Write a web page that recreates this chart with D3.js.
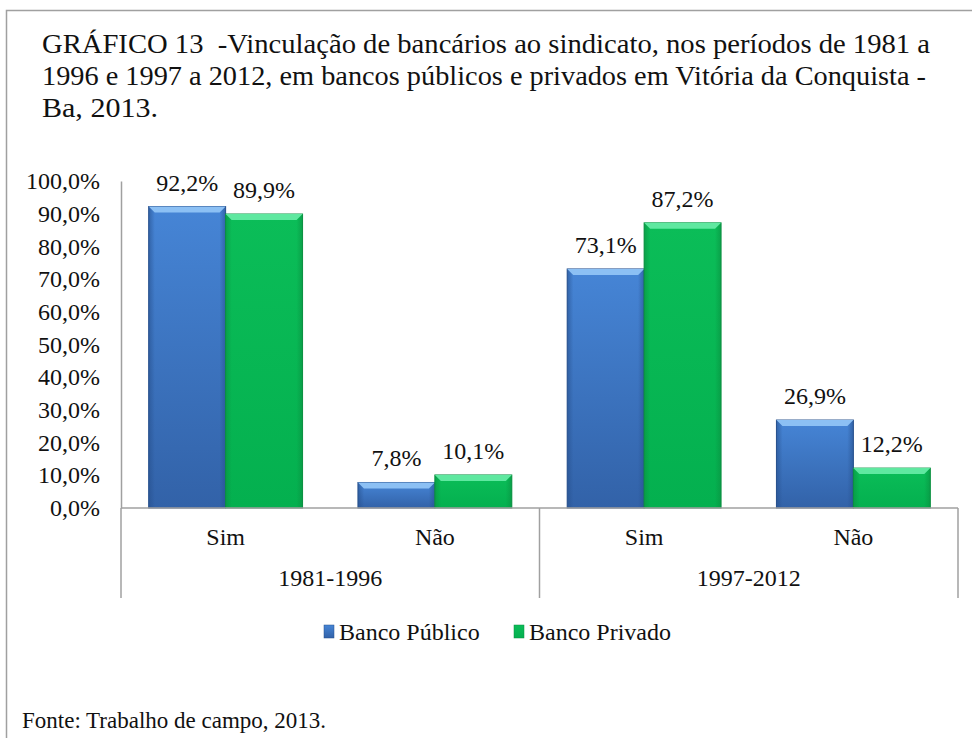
<!DOCTYPE html>
<html>
<head>
<meta charset="utf-8">
<script src="https://cdn.jsdelivr.net/npm/d3@7"></script>
<style>
  body { margin: 0; background: #fff; }
</style>
</head>
<body>
<div id="chart"></div>
<script>
// chart data
var titleLines = [
  "GRÁFICO 13  -Vinculação de bancários ao sindicato, nos períodos de 1981 a",
  "1996 e 1997 a 2012, em bancos públicos e privados em Vitória da Conquista -",
  "Ba, 2013."
];
var groups = ["1981-1996", "1997-2012"];
var answers = ["Sim", "Não"];
var seriesNames = ["Banco Público", "Banco Privado"];
var publico = [92.2, 7.8, 73.1, 26.9];
var privado = [89.9, 10.1, 87.2, 12.2];
var yTicks = [0, 10, 20, 30, 40, 50, 60, 70, 80, 90, 100];
var source = "Fonte: Trabalho de campo, 2013.";

var W = 972, H = 738;
var FONT = "'Liberation Serif', monospace";
var colors = {
  "Banco Público": { top: "#4685d6", bottom: "#3262a8", edge: "#264f8c", hi: "#8cc0f4" },
  "Banco Privado": { top: "#0bbd58", bottom: "#04b04f", edge: "#0a8f40", hi: "#5fe8a0" }
};

var svg = d3.select("#chart").append("svg")
  .attr("width", W).attr("height", H);

// frame
svg.append("path")
  .attr("d", "M6.5," + H + "V10.5H" + W)
  .attr("fill", "none").attr("stroke", "#a0a0a0").attr("stroke-width", 1.5);

function txt(sel, size) {
  return sel.attr("font-size", size).style("font-family", FONT).attr("fill", "#111");
}

// title
var titleWidths = [888, 884, 116];
svg.selectAll("text.title").data(titleLines).enter().append("text")
  .attr("class", "title")
  .attr("x", 42).attr("y", function(d, i) { return 53 + i * 32; })
  .call(txt, 28)
  .style("white-space", "pre")
  .text(function(d) { return d; })
  .attr("textLength", function(d, i) { return titleWidths[i]; })
  .attr("lengthAdjust", "spacingAndGlyphs");

// rows: one per group/answer
var rows = [];
groups.forEach(function(g, gi) {
  answers.forEach(function(a, ai) {
    var k = gi * answers.length + ai;
    rows.push({ key: g + "|" + a, group: g, answer: a, values: [publico[k], privado[k]] });
  });
});

var x0 = d3.scaleBand().domain(rows.map(function(d) { return d.key; })).range([121, 958]);
var x1 = d3.scaleBand().domain(seriesNames).range([0, x0.bandwidth()]).paddingOuter(0.36);
var y = d3.scaleLinear().domain([0, 100]).range([508, 181]);

// defs: gradients
var defs = svg.append("defs");
seriesNames.forEach(function(s, i) {
  var c = colors[s];
  var g = defs.append("linearGradient").attr("id", "grad" + i)
    .attr("x1", 0).attr("y1", 0).attr("x2", 0).attr("y2", 1);
  g.append("stop").attr("offset", "0%").attr("stop-color", c.top);
  g.append("stop").attr("offset", "100%").attr("stop-color", c.bottom);
  var h = defs.append("linearGradient").attr("id", "side" + i)
    .attr("x1", 0).attr("y1", 0).attr("x2", 1).attr("y2", 0);
  h.append("stop").attr("offset", "0%").attr("stop-color", c.edge).attr("stop-opacity", 0.6);
  h.append("stop").attr("offset", "8%").attr("stop-color", c.edge).attr("stop-opacity", 0);
  h.append("stop").attr("offset", "92%").attr("stop-color", c.edge).attr("stop-opacity", 0);
  h.append("stop").attr("offset", "100%").attr("stop-color", c.edge).attr("stop-opacity", 0.6);
});

// y axis
var yAxis = svg.append("g").attr("transform", "translate(121,0)")
  .call(d3.axisLeft(y).tickValues(yTicks).tickSize(0).tickPadding(21)
    .tickFormat(function(d) { return d.toFixed(1).replace(".", ",") + "%"; }));
yAxis.attr("font-family", null).attr("font-size", null);
yAxis.select(".domain").attr("stroke", "#a0a0a0").attr("stroke-width", 1.5);
yAxis.selectAll("text").call(txt, 24);

// bars
var rowG = svg.selectAll("g.row").data(rows).enter().append("g")
  .attr("class", "row")
  .attr("transform", function(d) { return "translate(" + x0(d.key) + ",0)"; });

var bars = rowG.selectAll("g.bar")
  .data(function(d) { return d.values.map(function(v, i) { return { s: seriesNames[i], i: i, v: v }; }); })
  .enter().append("g").attr("class", "bar");

bars.append("rect")
  .attr("x", function(d) { return x1(d.s); })
  .attr("y", function(d) { return y(d.v); })
  .attr("width", x1.bandwidth())
  .attr("height", function(d) { return y(0) - y(d.v); })
  .attr("fill", function(d) { return "url(#grad" + d.i + ")"; })
  .attr("stroke", function(d) { return colors[d.s].edge; })
  .attr("stroke-width", 1);
bars.append("rect")
  .attr("x", function(d) { return x1(d.s); })
  .attr("y", function(d) { return y(d.v); })
  .attr("width", x1.bandwidth())
  .attr("height", function(d) { return y(0) - y(d.v); })
  .attr("fill", function(d) { return "url(#side" + d.i + ")"; });
bars.append("path")
  .attr("d", function(d) {
    var xl = x1(d.s), xr = xl + x1.bandwidth(), t = y(d.v);
    return "M" + xl + "," + t + "H" + xr + "L" + (xr - 6) + "," + (t + 6) + "H" + (xl + 6) + "Z";
  })
  .attr("fill", function(d) { return colors[d.s].hi; });

// value labels
bars.append("text")
  .attr("x", function(d) { return x1(d.s) + x1.bandwidth() / 2; })
  .attr("y", function(d) { return y(d.v) - 16; })
  .attr("text-anchor", "middle")
  .call(txt, 24)
  .text(function(d) { return d.v.toFixed(1).replace(".", ",") + "%"; });

// category axis lines
var axisColor = "#a0a0a0";
svg.append("line").attr("x1", 121).attr("x2", 958).attr("y1", y(0)).attr("y2", y(0))
  .attr("stroke", axisColor).attr("stroke-width", 1.5);
var bottomY = 598;
var groupEdges = [121].concat(groups.map(function(g) {
  var ks = rows.filter(function(r) { return r.group === g; });
  return x0(ks[ks.length - 1].key) + x0.bandwidth();
}));
svg.selectAll("line.sep").data(groupEdges).enter().append("line")
  .attr("class", "sep")
  .attr("x1", function(d) { return d; }).attr("x2", function(d) { return d; })
  .attr("y1", y(0)).attr("y2", bottomY)
  .attr("stroke", axisColor).attr("stroke-width", 1.5);

// answer labels
svg.selectAll("text.ans").data(rows).enter().append("text")
  .attr("class", "ans")
  .attr("x", function(d) { return x0(d.key) + x0.bandwidth() / 2; })
  .attr("y", 545)
  .attr("text-anchor", "middle").call(txt, 24)
  .text(function(d) { return d.answer; });

// group labels
svg.selectAll("text.grp").data(groups).enter().append("text")
  .attr("class", "grp")
  .attr("x", function(d, i) { return (groupEdges[i] + groupEdges[i + 1]) / 2; })
  .attr("y", 586)
  .attr("text-anchor", "middle").call(txt, 24)
  .text(function(d) { return d; });

// legend
var legendX = [324, 514];
var leg = svg.selectAll("g.leg").data(seriesNames).enter().append("g")
  .attr("class", "leg")
  .attr("transform", function(d, i) { return "translate(" + legendX[i] + ",632)"; });
leg.append("rect").attr("x", 0).attr("y", -7).attr("width", 10).attr("height", 13)
  .attr("fill", function(d, i) { return "url(#grad" + i + ")"; })
  .attr("stroke", function(d) { return colors[d].edge; }).attr("stroke-width", 0.5);
leg.append("text").attr("x", 15).attr("y", 8).call(txt, 24)
  .text(function(d) { return d; });

// source
svg.append("text").attr("x", 22).attr("y", 728).call(txt, 23)
  .text(source);
</script>
</body>
</html>
